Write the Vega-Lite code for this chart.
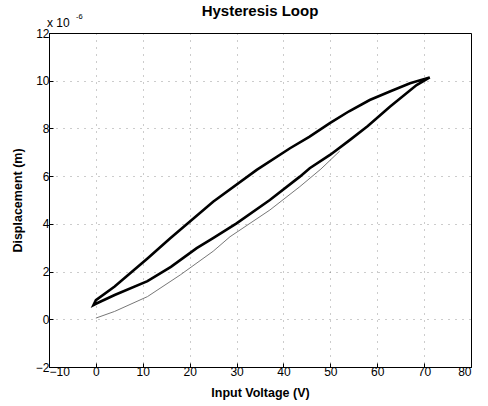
{
  "$schema": "https://vega.github.io/schema/vega-lite/v6.json",
  "width": 422,
  "height": 334,
  "autosize": {"type": "none"},
  "padding": {"left": 49, "top": 33, "right": 17, "bottom": 39},
  "background": "white",
  "title": {"text": "Hysteresis Loop", "font": "Liberation Sans", "fontSize": 15, "fontWeight": "bold", "color": "black", "offset": -6, "anchor": "middle"},
  "config": {
    "view": {"stroke": "black", "strokeWidth": 1},
    "axis": {
      "labelFont": "Liberation Sans", "labelFontSize": 12, "labelColor": "black",
      "titleFont": "Liberation Sans", "titleFontSize": 12.5, "titleFontWeight": "bold", "titleColor": "black",
      "domainColor": "black", "tickColor": "black", "tickSize": -4,
      "gridColor": "black", "gridOpacity": 0.4, "gridDash": [1, 6], "gridWidth": 1
    }
  },
  "datasets": {
    "loop": [
      {"i": 1, "v": 0, "d": 0.65},
      {"i": 2, "v": 4, "d": 1.02},
      {"i": 3, "v": 11, "d": 1.6},
      {"i": 4, "v": 16, "d": 2.2},
      {"i": 5, "v": 21.5, "d": 2.98},
      {"i": 6, "v": 25, "d": 3.4},
      {"i": 7, "v": 30, "d": 4.02},
      {"i": 8, "v": 37.1, "d": 5.0},
      {"i": 9, "v": 43.5, "d": 5.98},
      {"i": 10, "v": 45.6, "d": 6.33},
      {"i": 11, "v": 50, "d": 6.9},
      {"i": 12, "v": 54.2, "d": 7.52},
      {"i": 13, "v": 58, "d": 8.1},
      {"i": 14, "v": 62.7, "d": 8.91},
      {"i": 15, "v": 68.4, "d": 9.82},
      {"i": 16, "v": 71.2, "d": 10.14},
      {"i": 17, "v": 67, "d": 9.89},
      {"i": 18, "v": 62.7, "d": 9.55},
      {"i": 19, "v": 58.4, "d": 9.19},
      {"i": 20, "v": 54, "d": 8.72},
      {"i": 21, "v": 49.9, "d": 8.22},
      {"i": 22, "v": 45.5, "d": 7.65},
      {"i": 23, "v": 41.4, "d": 7.17},
      {"i": 24, "v": 34.3, "d": 6.26},
      {"i": 25, "v": 25, "d": 4.93},
      {"i": 26, "v": 15.8, "d": 3.39},
      {"i": 27, "v": 11, "d": 2.55},
      {"i": 28, "v": 4, "d": 1.37},
      {"i": 29, "v": 0, "d": 0.8},
      {"i": 30, "v": -0.5, "d": 0.6},
      {"i": 31, "v": 0, "d": 0.65}
    ],
    "initial": [
      {"i": 1, "v": 0, "d": 0.05},
      {"i": 2, "v": 4, "d": 0.33},
      {"i": 3, "v": 11, "d": 0.95},
      {"i": 4, "v": 18, "d": 1.86},
      {"i": 5, "v": 25, "d": 2.85},
      {"i": 6, "v": 28.6, "d": 3.46},
      {"i": 7, "v": 37.1, "d": 4.58},
      {"i": 8, "v": 43.5, "d": 5.56},
      {"i": 9, "v": 48, "d": 6.3},
      {"i": 10, "v": 52, "d": 7.05}
    ],
    "labels": [
      {"v": -10, "d": 12, "t": "x 10", "e": "-6"}
    ]
  },
  "layer": [
    {
      "data": {"name": "initial"},
      "mark": {"type": "line", "color": "#777777", "strokeWidth": 1, "clip": true},
      "encoding": {
        "x": {"field": "v", "type": "quantitative", "scale": {"domain": [-10, 80], "nice": false}, "axis": {"title": "Input Voltage (V)", "values": [-10, 0, 10, 20, 30, 40, 50, 60, 70, 80], "labelPadding": 3, "titlePadding": 9, "grid": true}},
        "y": {"field": "d", "type": "quantitative", "scale": {"domain": [-2, 12], "nice": false}, "axis": {"title": "Displacement (m)", "values": [-2, 0, 2, 4, 6, 8, 10, 12], "labelPadding": 4, "titlePadding": 11, "grid": true}},
        "order": {"field": "i", "type": "quantitative"}
      }
    },
    {
      "data": {"name": "loop"},
      "mark": {"type": "line", "color": "black", "strokeWidth": 2.6, "clip": true},
      "encoding": {
        "x": {"field": "v", "type": "quantitative"},
        "y": {"field": "d", "type": "quantitative"},
        "order": {"field": "i", "type": "quantitative"}
      }
    },
    {
      "data": {"name": "labels"},
      "mark": {"type": "text", "font": "Liberation Sans", "fontSize": 12, "color": "black", "align": "left", "baseline": "bottom", "dx": -2, "dy": -3},
      "encoding": {
        "x": {"field": "v", "type": "quantitative"},
        "y": {"field": "d", "type": "quantitative"},
        "text": {"field": "t"}
      }
    },
    {
      "data": {"name": "labels"},
      "mark": {"type": "text", "font": "Liberation Sans", "fontSize": 7.5, "color": "black", "align": "left", "baseline": "bottom", "dx": 27, "dy": -12},
      "encoding": {
        "x": {"field": "v", "type": "quantitative"},
        "y": {"field": "d", "type": "quantitative"},
        "text": {"field": "e"}
      }
    }
  ]
}
